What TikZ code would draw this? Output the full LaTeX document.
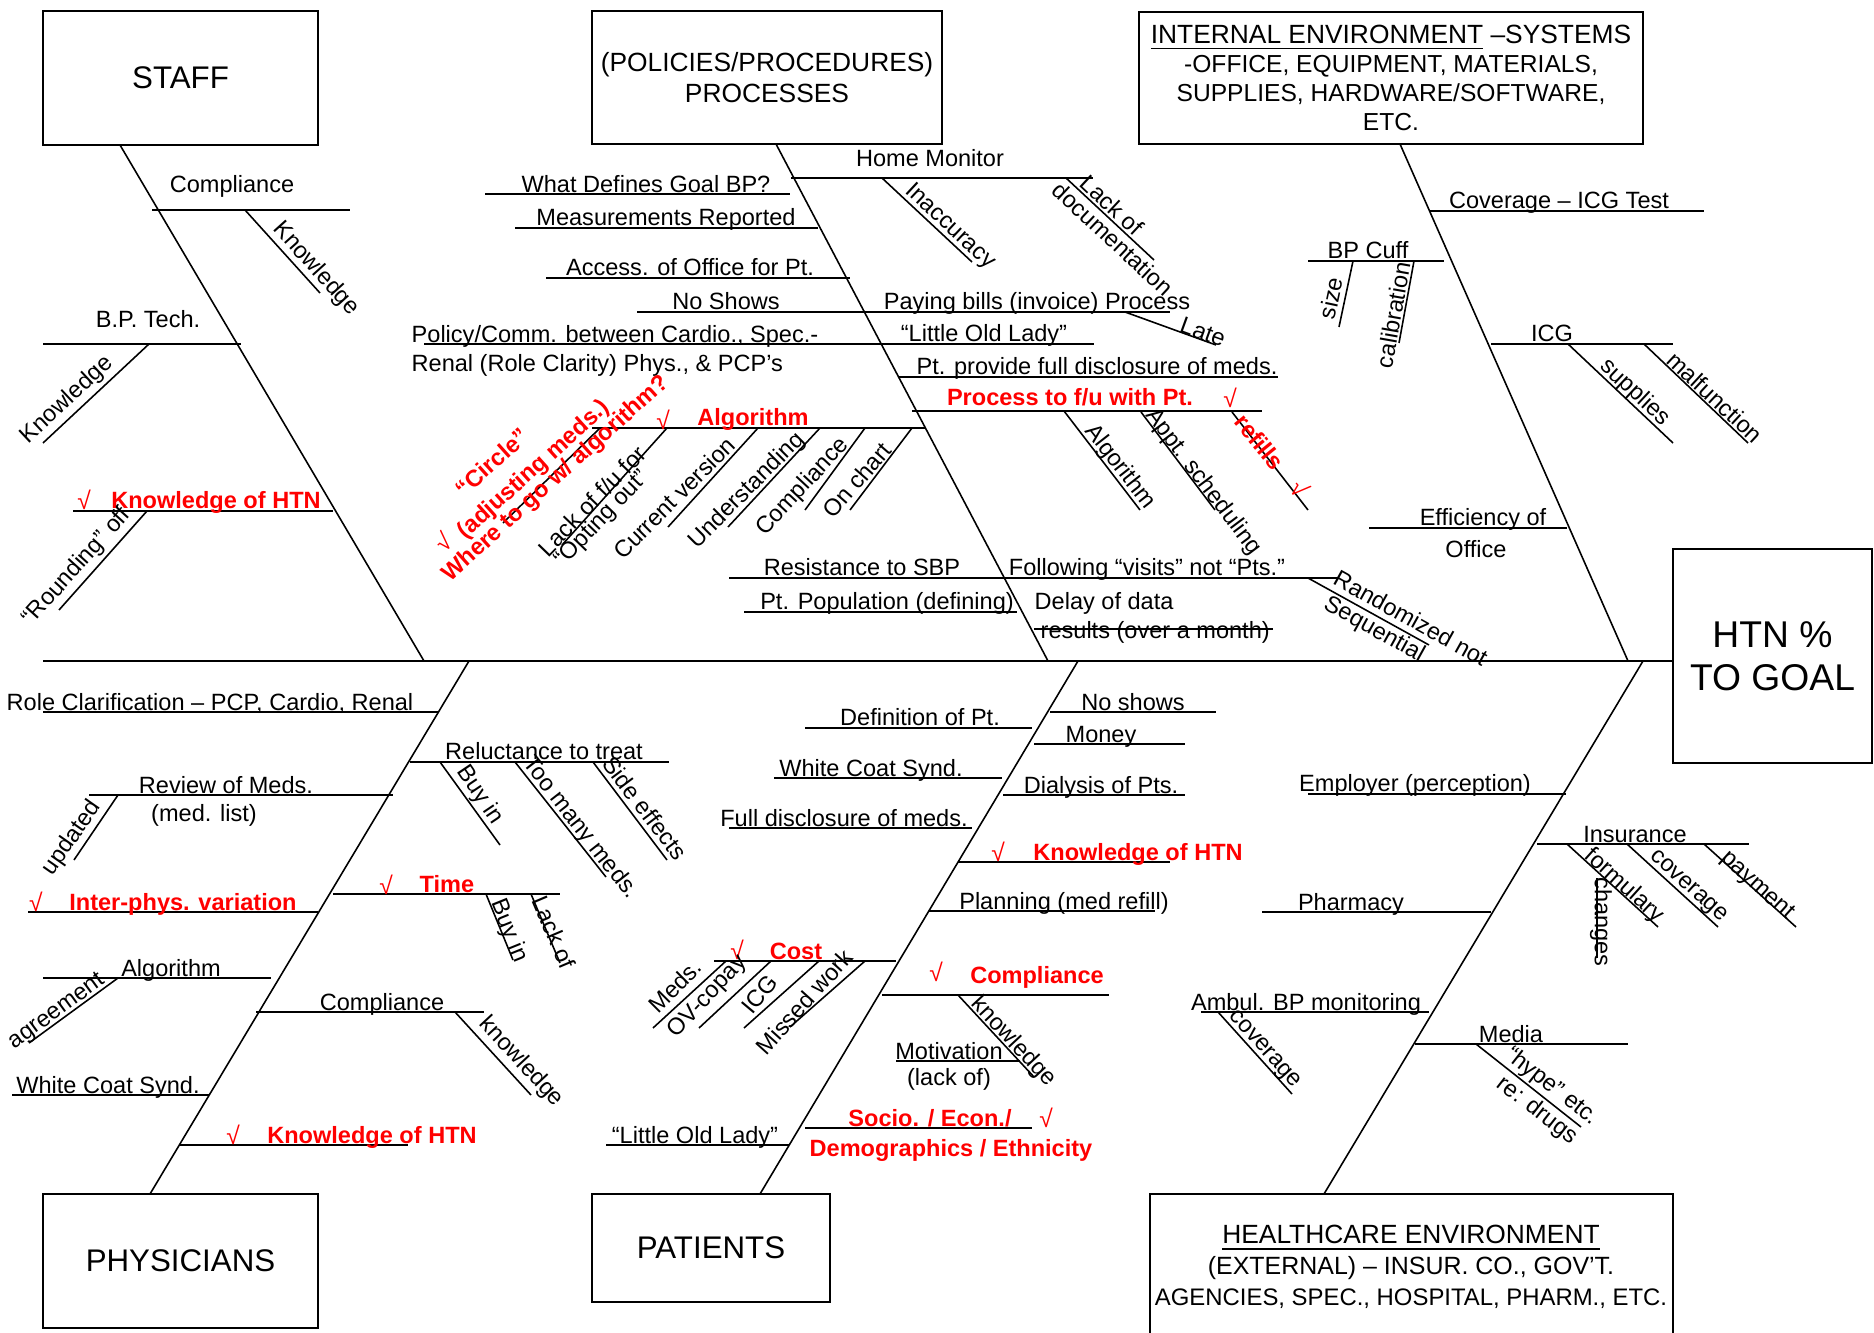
\documentclass[tikz,border=0pt]{standalone}
\usepackage{fontspec}
\setmainfont{Liberation Sans}
\tikzset{
  bone/.style={line width=0.45pt},
  box/.style={draw, line width=0.6pt, inner sep=0pt, align=center},
  lbl/.style={font=\fontsize{6.7}{8}\selectfont, inner sep=0pt},
  bl/.style={lbl, anchor=base},
  rbl/.style={lbl, text=red, font=\fontsize{6.7}{8}\selectfont\bfseries},
  chk/.style={lbl, text=red, font=\fontsize{7}{8}\selectfont},
}
\begin{document}
\begin{tikzpicture}[x=0.1mm, y=-0.1mm]
\useasboundingbox (0,0) rectangle (1874,1333);
\node[box, minimum width=27.5mm, minimum height=13.4mm, font=\fontsize{8.9}{10}\selectfont] (staff) at (180.5,78) {STAFF};
\node[box, minimum width=35mm, minimum height=13.3mm, font=\fontsize{7.5}{8.8}\selectfont] (proc) at (767,77.5) {(POLICIES/PROCEDURES)\\PROCESSES};
\node[box, minimum width=50.4mm, minimum height=13.2mm, font=\fontsize{7}{8.25}\selectfont] (intl) at (1391,78) {{\fontsize{7.5}{8.25}\selectfont\underline{INTERNAL ENVIRONMENT} –SYSTEMS}\\-OFFICE, EQUIPMENT, MATERIALS,\\SUPPLIES, HARDWARE/SOFTWARE,\\ETC.};
\node[box, minimum width=19.9mm, minimum height=21.4mm, font=\fontsize{10.6}{12.2}\selectfont] (htn) at (1772.5,656) {HTN \%\\TO GOAL};
\node[box, minimum width=27.5mm, minimum height=13.4mm, font=\fontsize{8.9}{10}\selectfont] (phys) at (180.5,1261) {PHYSICIANS};
\node[box, minimum width=23.8mm, minimum height=10.8mm, font=\fontsize{8.9}{10}\selectfont] (pat) at (711,1248) {PATIENTS};
\node[lbl, align=center, font=\fontsize{7.5}{8.8}\selectfont] (hlth) at (1411,1267) {\underline{HEALTHCARE ENVIRONMENT}\\{\fontsize{7.1}{8.8}\selectfont(EXTERNAL) – INSUR. CO., GOV’T.}\\{\fontsize{6.8}{8.8}\selectfont AGENCIES, SPEC., HOSPITAL, PHARM., ETC.}};
\draw[line width=0.6pt] (1150,1333) |- (1673,1194) -- (1673,1333);

\draw[bone] (43,661) -- (43,661 -| htn.west);
\draw[bone] (120,145) -- (424,661);
\draw[bone] (776,144) -- (1048,661);
\draw[bone] (1400,144) -- (1628,661);
\draw[bone] (150,1194) -- (469,661);
\draw[bone] (760,1194) -- (1078,661);
\draw[bone] (1324,1194) -- (1643,661);

\draw[bone] (152,210) -- (350,210);
\draw (232,193) node[bl] (s1) {Compliance};
\draw[bone] (245,210) -- (320,293);
\draw (316,269) node[lbl, rotate=-48] (s1a) {Knowledge};
\draw[bone] (43,344) -- (241,344);
\draw (148,328) node[bl] (s2) {B.P. Tech.};
\draw[bone] (149,344) -- (43,443);
\draw (67,400) node[lbl, rotate=43] (s2a) {Knowledge};
\draw[bone] (73,511) -- (333,511);
\draw (84,500) node[chk] (s3c) {√};
\draw (216,509) node[rbl, anchor=base] (s3) {Knowledge of HTN};
\draw[bone] (147,511) -- (59,610);
\draw (77,567) node[lbl, rotate=48] (s3a) {“Rounding” off};

\draw[bone] (791,178) -- (1093,178);
\draw (930,167) node[bl] (p1) {Home Monitor};
\draw[bone] (882,178) -- (972,262);
\draw (950,227) node[lbl, rotate=-43] (p1a) {Inaccuracy};
\draw[bone] (1066,178) -- (1154,260);
\draw (1112,205) node[lbl, rotate=-43] (p1b) {Lack of};
\draw (1113,239) node[lbl, rotate=-43] (p1c) {documentation};
\draw[bone] (485,194) -- (790,194);
\draw (646,193) node[bl] (p2) {What Defines Goal BP?};
\draw[bone] (515,228) -- (818,228);
\draw (666,226) node[bl] (p3) {Measurements Reported};
\draw[bone] (546,278) -- (850,278);
\draw (690,276) node[bl] (p4) {Access. of Office for Pt.};
\draw[bone] (637,312) -- (1170,312);
\draw (726,310) node[bl] (p5) {No Shows};
\draw (1037,310) node[bl] (p6) {Paying bills (invoice) Process};
\draw[bone] (1125,312) -- (1216,345);
\draw (1203,332) node[lbl, rotate=-20] (p6a) {Late};
\draw[bone] (424,344) -- (1094,344);
\draw (411,343) node[bl, anchor=base west] (p7) {Policy/Comm. between Cardio., Spec.-};
\draw (411,372) node[bl, anchor=base west] (p7b) {Renal (Role Clarity) Phys., \& PCP’s};
\draw (984,342) node[bl] (p8) {“Little Old Lady”};
\draw[bone] (898,377) -- (1278,377);
\draw (1097,375) node[bl] (p9) {Pt. provide full disclosure of meds.};
\draw[bone] (912,411) -- (1262,411);
\draw (1070,406) node[rbl, anchor=base] (p10) {Process to f/u with Pt.};
\draw (1230,398) node[chk] (p10c) {√};
\draw[bone] (1064,411) -- (1140,510);
\draw (1120,467) node[lbl, rotate=-52] (p10a) {Algorithm};
\draw[bone] (1141,412) -- (1215,510);
\draw (1203,482) node[lbl, rotate=-53] (p10b) {Appt. scheduling};
\draw[bone] (1232,412) -- (1308,510);
\draw (1260,442) node[rbl, rotate=-51] (p10d) {refills};
\draw (1300,488) node[chk, rotate=-50] (p10e) {√};
\draw[bone] (592,428) -- (925,428);
\draw (753,426) node[rbl, anchor=base] (p11) {Algorithm};
\draw (663,420) node[chk] (p11c) {√};
\draw[bone] (600,428) -- (503,523);
\draw (492,462) node[rbl, rotate=42] (p11a) {“Circle”};
\draw (534,470) node[rbl, rotate=42] (p11b) {(adjusting meds.)};
\draw (556,479) node[rbl, rotate=42] (p11d) {Where to go w/ algorithm?};
\draw (443,542) node[chk, rotate=42] (p11e) {√};
\draw[bone] (667,428) -- (562,545);
\draw (592,501) node[lbl, rotate=46] (p12a) {Lack of f/u for};
\draw (602,519) node[lbl, rotate=46] (p12b) {“Opting out”};
\draw[bone] (758,428) -- (668,527);
\draw (674,498) node[lbl, rotate=45] (p13) {Current version};
\draw[bone] (820,428) -- (728,527);
\draw (747,491) node[lbl, rotate=45] (p14) {Understanding};
\draw[bone] (865,428) -- (805,510);
\draw (803,487) node[lbl, rotate=47] (p15) {Compliance};
\draw[bone] (912,428) -- (850,510);
\draw (857,480) node[lbl, rotate=49] (p16) {On chart};
\draw[bone] (729,578) -- (1338,578);
\draw (862,576) node[bl] (p17) {Resistance to SBP};
\draw (1147,576) node[bl] (p18) {Following “visits” not “Pts.”};
\draw[bone] (1308,578) -- (1429,645);
\draw (1411,618) node[lbl, rotate=-29] (p18a) {Randomized not};
\draw (1374,630) node[lbl, rotate=-29] (p18b) {Sequential};
\draw[bone] (744,612) -- (1017,612);
\draw (887,610) node[bl] (p19) {Pt. Population (defining)};
\draw[bone] (1034,629) -- (1273,629);
\draw (1034,610) node[bl, anchor=base west] (p20) {Delay of data};
\draw (1040,638) node[bl, anchor=base west] (p20b) {results (over a month)};

\draw[bone] (1429,211) -- (1704,211);
\draw (1559,209) node[bl] (i1) {Coverage – ICG Test};
\draw[bone] (1308,261) -- (1444,261);
\draw (1368,259) node[bl] (i2) {BP Cuff};
\draw[bone] (1353,261) -- (1339,327);
\draw (1331,298) node[lbl, rotate=78] (i2a) {size};
\draw[bone] (1414,261) -- (1399,343);
\draw (1393,315) node[lbl, rotate=80] (i2b) {calibration};
\draw[bone] (1491,344) -- (1673,344);
\draw (1552,342) node[bl] (i3) {ICG};
\draw[bone] (1568,344) -- (1673,443);
\draw (1635,393) node[lbl, rotate=-43] (i3a) {supplies};
\draw[bone] (1644,344) -- (1748,443);
\draw (1715,397) node[lbl, rotate=-43] (i3b) {malfunction};
\draw[bone] (1369,528) -- (1567,528);
\draw (1483,526) node[bl] (i4) {Efficiency of};
\draw (1476,557) node[bl] (i4b) {Office};

\draw[bone] (43,712) -- (439,712);
\draw (210,710) node[bl] (d1) {Role Clarification – PCP, Cardio, Renal};
\draw[bone] (410,762) -- (669,762);
\draw (544,760) node[bl] (d2) {Reluctance to treat};
\draw[bone] (440,762) -- (500,845);
\draw (480,795) node[lbl, rotate=-56] (d2a) {Buy in};
\draw[bone] (515,762) -- (606,877);
\draw (580,828) node[lbl, rotate=-52] (d2b) {Too many meds.};
\draw[bone] (593,762) -- (667,860);
\draw (645,808) node[lbl, rotate=-53] (d2c) {Side effects};
\draw[bone] (89,795) -- (393,795);
\draw (226,793) node[bl] (d3) {Review of Meds.};
\draw (204,822) node[bl] (d3b) {(med. list)};
\draw[bone] (118,795) -- (74,860);
\draw (72,838) node[lbl, rotate=55] (d3a) {updated};
\draw[bone] (28,912) -- (318,912);
\draw (36,902) node[chk] (d4c) {√};
\draw (183,910) node[rbl, anchor=base] (d4) {Inter-phys. variation};
\draw[bone] (333,894) -- (560,894);
\draw (386,885) node[chk] (d5c) {√};
\draw (447,892) node[rbl, anchor=base] (d5) {Time};
\draw[bone] (486,894) -- (513,960);
\draw (509,931) node[lbl, rotate=-68] (d5a) {Buy in};
\draw[bone] (531,894) -- (560,963);
\draw (554,932) node[lbl, rotate=-67] (d5b) {Lack of};
\draw[bone] (43,978) -- (271,978);
\draw (171,976) node[bl] (d6) {Algorithm};
\draw[bone] (118,978) -- (29,1043);
\draw (57,1012) node[lbl, rotate=36] (d6a) {agreement};
\draw[bone] (256,1012) -- (484,1012);
\draw (382,1010) node[bl] (d7) {Compliance};
\draw[bone] (455,1012) -- (531,1095);
\draw (521,1062) node[lbl, rotate=-47] (d7a) {knowledge};
\draw[bone] (12,1095) -- (209,1095);
\draw (108,1093) node[bl] (d8) {White Coat Synd.};
\draw[bone] (180,1145) -- (408,1145);
\draw (233,1135) node[chk] (d9c) {√};
\draw (372,1143) node[rbl, anchor=base] (d9) {Knowledge of HTN};

\draw[bone] (805,728) -- (1032,728);
\draw (920,726) node[bl] (t1) {Definition of Pt.};
\draw[bone] (774,778) -- (1002,778);
\draw (871,776) node[bl] (t2) {White Coat Synd.};
\draw[bone] (729,828) -- (972,828);
\draw (844,826) node[bl] (t3) {Full disclosure of meds.};
\draw[bone] (714,961) -- (896,961);
\draw (737,950) node[chk] (t4c) {√};
\draw (796,959) node[rbl, anchor=base] (t4) {Cost};
\draw[bone] (726,961) -- (653,1028);
\draw (675,986) node[lbl, rotate=45] (t4a) {Meds.};
\draw[bone] (771,961) -- (699,1028);
\draw (708,997) node[lbl, rotate=47] (t4b) {OV-copay};
\draw[bone] (819,961) -- (744,1028);
\draw (760,994) node[lbl, rotate=50] (t4d) {ICG};
\draw[bone] (865,961) -- (790,1027);
\draw (804,1002) node[lbl, rotate=48] (t4e) {Missed work};
\draw[bone] (606,1145) -- (789,1145);
\draw (695,1143) node[bl] (t5) {“Little Old Lady”};
\draw[bone] (1050,712) -- (1216,712);
\draw (1133,710) node[bl] (t6) {No shows};
\draw[bone] (1034,744) -- (1185,744);
\draw (1101,742) node[bl] (t7) {Money};
\draw[bone] (1003,795) -- (1185,795);
\draw (1101,793) node[bl] (t8) {Dialysis of Pts.};
\draw[bone] (958,862) -- (1170,862);
\draw (998,852) node[chk] (t9c) {√};
\draw (1138,860) node[rbl, anchor=base] (t9) {Knowledge of HTN};
\draw[bone] (929,911) -- (1155,911);
\draw (1064,909) node[bl] (t10) {Planning (med refill)};
\draw[bone] (882,995) -- (1109,995);
\draw (936,972) node[chk] (t11c) {√};
\draw (1037,983) node[rbl, anchor=base] (t11) {Compliance};
\draw[bone] (958,995) -- (1034,1077);
\draw (1013,1042) node[lbl, rotate=-47] (t11a) {knowledge};
\draw[bone] (896,1061) -- (1020,1061);
\draw (949,1059) node[bl] (t12) {Motivation};
\draw (949,1085) node[bl] (t12b) {(lack of)};
\draw[bone] (805,1128) -- (1032,1128);
\draw (930,1126) node[rbl, anchor=base] (t13) {Socio. / Econ./};
\draw (1046,1118) node[chk] (t13c) {√};
\draw (951,1156) node[rbl, anchor=base] (t13b) {Demographics / Ethnicity};

\draw[bone] (1308,794) -- (1566,794);
\draw (1415,792) node[bl] (h1) {Employer (perception)};
\draw[bone] (1537,844) -- (1749,844);
\draw (1635,842) node[bl] (h2) {Insurance};
\draw[bone] (1567,844) -- (1658,927);
\draw (1624,886) node[lbl, rotate=-42] (h2a) {formulary};
\draw[bone] (1627,844) -- (1718,927);
\draw (1688,887) node[lbl, rotate=-42] (h2b) {coverage};
\draw[bone] (1704,844) -- (1796,927);
\draw (1757,886) node[lbl, rotate=-42] (h2c) {payment};
\draw[bone] (1597,878) -- (1597,958);
\draw (1601,922) node[lbl, rotate=-90] (h2d) {changes};
\draw[bone] (1262,912) -- (1491,912);
\draw (1351,910) node[bl] (h3) {Pharmacy};
\draw[bone] (1201,1012) -- (1429,1012);
\draw (1306,1010) node[bl] (h4) {Ambul. BP monitoring};
\draw[bone] (1218,1012) -- (1292,1094);
\draw (1264,1050) node[lbl, rotate=-48] (h4a) {coverage};
\draw[bone] (1415,1044) -- (1628,1044);
\draw (1511,1042) node[bl] (h5) {Media};
\draw[bone] (1476,1044) -- (1581,1127);
\draw (1552,1087) node[lbl, rotate=-38] (h5a) {“hype” etc.};
\draw (1537,1111) node[lbl, rotate=-38] (h5b) {re: drugs};
\end{tikzpicture}
\end{document}
